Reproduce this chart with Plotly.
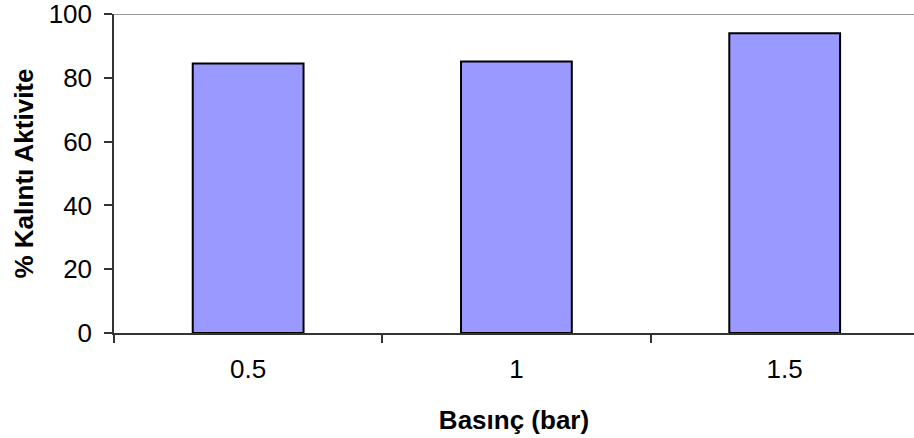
import plotly.graph_objects as go

# Pressure levels (bar) and residual activity (%)
pressures = ["0.5", "1", "1.5"]
residual_activity = [84.5, 85.1, 94.0]
y_ticks = [0, 20, 40, 60, 80, 100]

FONT = "Liberation Sans, Arial, sans-serif"
SIZE = 26

fig = go.Figure(
    go.Bar(
        x=pressures,
        y=residual_activity,
        width=0.413,
        marker=dict(color="#9999FF", line=dict(color="#000000", width=2)),
    )
)

# light top border line at the 100 mark
fig.add_shape(
    type="line", xref="paper", yref="y", x0=0, x1=1, y0=100, y1=100,
    line=dict(color="#999999", width=2), layer="below",
)

# vertical axis title placed explicitly in the left margin
fig.add_annotation(
    text="<b>% Kalıntı Aktivite</b>",
    xref="paper", yref="paper", x=0, y=0.5,
    xanchor="center", yanchor="middle",
    xshift=-91, textangle=-90, showarrow=False,
    font=dict(family=FONT, size=SIZE, color="#000000"),
)

fig.update_layout(
    width=914,
    height=438,
    margin=dict(l=114, r=0, t=14, b=105),
    paper_bgcolor="white",
    plot_bgcolor="white",
    showlegend=False,
    font=dict(family=FONT, size=SIZE, color="#000000"),
    xaxis=dict(
        type="category",
        range=[-0.5, 2.482],
        showline=True,
        linecolor="#333333",
        linewidth=1.5,
        ticks="outside",
        tickson="boundaries",
        ticklen=8,
        tickwidth=1.5,
        tickcolor="#333333",
        showgrid=False,
        tickfont=dict(family=FONT, size=SIZE),
        ticklabelstandoff=12,
        ticklabeloverflow="allow",
        title=dict(
            text="<b>Basınç (bar)</b>",
            font=dict(family=FONT, size=SIZE),
            standoff=28,
        ),
    ),
    yaxis=dict(
        range=[0, 100],
        tickvals=y_ticks,
        showline=True,
        linecolor="#333333",
        linewidth=1.5,
        ticks="outside",
        ticklen=8,
        tickwidth=1.5,
        tickcolor="#333333",
        showgrid=False,
        zeroline=False,
        tickfont=dict(family=FONT, size=SIZE),
        ticklabelstandoff=7,
        ticklabeloverflow="allow",
    ),
)

fig.write_html("out.html")
